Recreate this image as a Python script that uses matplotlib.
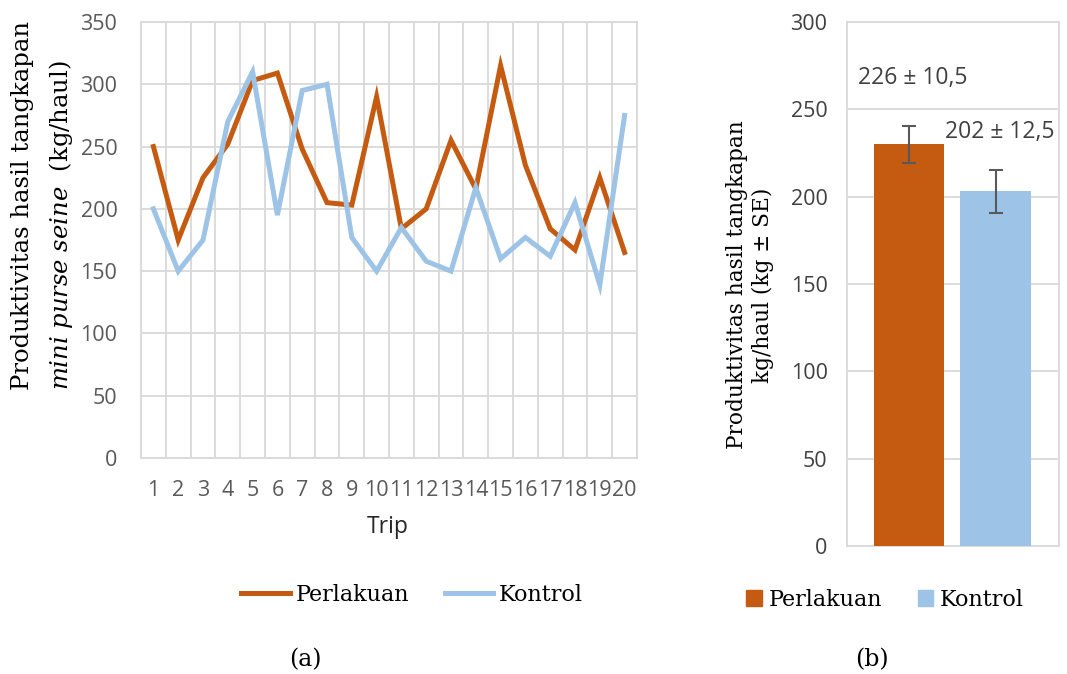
import matplotlib.pyplot as plt
from matplotlib.lines import Line2D
from matplotlib.patches import Patch

trips = list(range(1, 21))
perlakuan = [250, 175, 225, 252, 303, 309, 248, 205, 203, 290,
             184, 200, 255, 216, 315, 235, 184, 167, 225, 165]
kontrol = [200, 150, 175, 270, 310, 195, 295, 300, 177, 150,
           185, 158, 150, 217, 160, 177, 162, 205, 139, 275]

groups = ['Perlakuan', 'Kontrol']
means = [230, 203]
se = [10.5, 12.5]
labels_b = ['226 ± 10,5', '202 ± 12,5']

c_or = '#C55A11'
c_bl = '#9DC3E6'
grid_c = '#D9D9D9'
tick_c = '#595959'
serif = 'DejaVu Serif'
sans = 'Open Sans'

plt.rcParams['mathtext.fontset'] = 'custom'
plt.rcParams['mathtext.it'] = serif + ':italic'
plt.rcParams['mathtext.rm'] = serif

W, H = 1067, 674
fig = plt.figure(figsize=(W / 100, H / 100), dpi=100)

# (a) line chart
ax1 = fig.add_axes([141 / W, 1 - 458 / H, (637 - 141) / W, (458 - 22) / H])
ax1.plot(trips, perlakuan, color=c_or, lw=3.6, solid_joinstyle='miter', zorder=3)
ax1.plot(trips, kontrol, color=c_bl, lw=3.6, solid_joinstyle='miter', zorder=3)
ax1.set_xlim(0.5, 20.5)
ax1.set_ylim(0, 350)
ax1.set_yticks(range(0, 351, 50))
ax1.set_xticks(trips)
ax1.set_xticks([t + 0.5 for t in range(0, 21)], minor=True)
ax1.grid(True, which='minor', axis='x', color=grid_c, lw=1.3)
ax1.grid(True, which='major', axis='y', color=grid_c, lw=1.3)
ax1.tick_params(which='both', length=0)
ax1.tick_params(axis='y', pad=17, labelsize=15.5, labelcolor=tick_c)
ax1.tick_params(axis='x', pad=16, labelsize=15.5, labelcolor=tick_c)
for lab in ax1.get_xticklabels() + ax1.get_yticklabels():
    lab.set_fontfamily(sans)
for s in ax1.spines.values():
    s.set_color(grid_c)
    s.set_linewidth(1.3)
ax1.set_axisbelow(True)
fig.text(388 / W, 1 - 527 / H, 'Trip', ha='center', va='center',
         fontsize=16.5, family=sans, color='#262626')

fig.text(23 / W, 1 - 390 / H, 'Produktivitas hasil tangkapan', rotation=90,
         ha='center', va='bottom', fontsize=17.5, family=serif)
fig.text(61 / W, 1 - 390 / H, r'$\mathit{mini\ purse\ seine}$  (kg/haul)', rotation=90,
         ha='center', va='bottom', fontsize=17.5, family=serif)

h1 = [Line2D([], [], color=c_or, lw=3.6), Line2D([], [], color=c_bl, lw=3.6)]
fig.legend(h1, groups, loc='center', bbox_to_anchor=(412 / W, 1 - 595 / H),
           ncol=2, frameon=False, prop={'family': serif, 'size': 16},
           handlelength=2.2, handletextpad=0.25, columnspacing=1.6)
fig.text(305 / W, 1 - 660 / H, '(a)', ha='center', va='center', fontsize=17, family=serif)

# (b) bar chart
ax2 = fig.add_axes([847 / W, 1 - 546 / H, (1059 - 847) / W, (546 - 22) / H])
xpos = [0, 1]
ax2.bar(xpos, means, width=0.81, color=[c_or, c_bl], zorder=3)
ax2.errorbar(xpos, means, yerr=se, fmt='none', ecolor=tick_c, elinewidth=1.5,
             capsize=5, capthick=1.5, zorder=4)
ax2.set_xlim(-0.717, 1.734)
ax2.set_ylim(0, 300)
ax2.set_yticks(range(0, 301, 50))
ax2.set_xticks([])
ax2.grid(True, axis='y', color=grid_c, lw=1.3)
ax2.set_axisbelow(True)
ax2.tick_params(length=0)
ax2.tick_params(axis='y', pad=14, labelsize=15.5, labelcolor='#404040')
for lab in ax2.get_yticklabels():
    lab.set_fontfamily(sans)
for s in ax2.spines.values():
    s.set_color(grid_c)
    s.set_linewidth(1.3)
ax2.text(0.04, 268, labels_b[0], ha='center', va='center', fontsize=16.5, family=sans, color='#404040')
ax2.text(1.05, 237, labels_b[1], ha='center', va='center', fontsize=16.5, family=sans, color='#404040')

fig.text(750 / W, 1 - 285 / H, 'Produktivitas hasil tangkapan\nkg/haul (kg ± SE)', rotation=90,
         ha='center', va='center', multialignment='center', fontsize=15.6, family=serif,
         linespacing=1.2)

h2 = [Patch(color=c_or), Patch(color=c_bl)]
fig.legend(h2, groups, loc='center', bbox_to_anchor=(885 / W, 1 - 600 / H),
           ncol=2, frameon=False, prop={'family': serif, 'size': 16},
           handlelength=0.7, handleheight=0.7, handletextpad=0.3, columnspacing=1.6)
fig.text(872 / W, 1 - 660 / H, '(b)', ha='center', va='center', fontsize=17, family=serif)

fig.savefig('out.png', dpi=100)
